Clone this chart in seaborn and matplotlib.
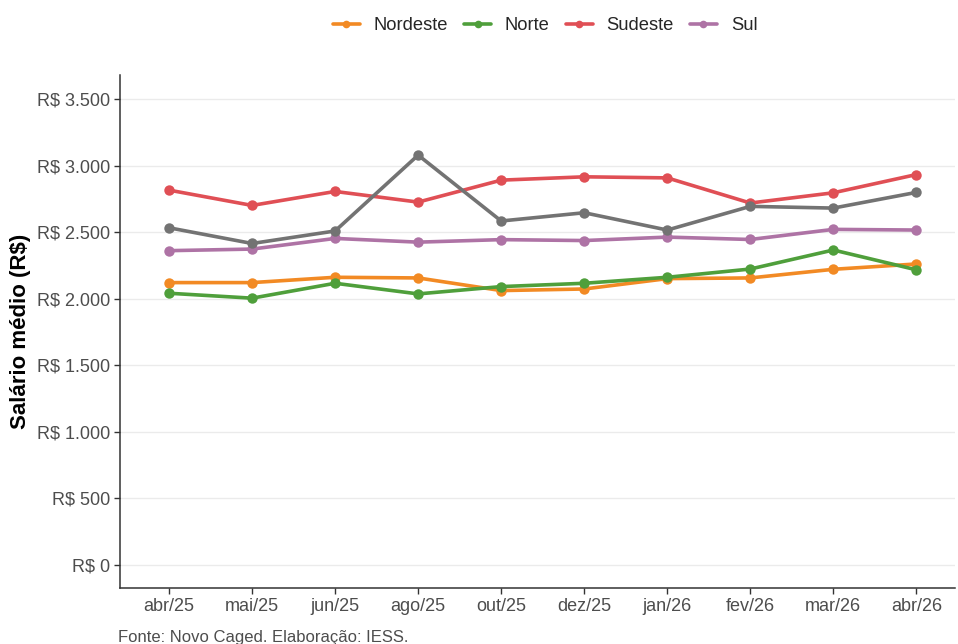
import matplotlib
matplotlib.use("Agg")
import numpy as np
import pandas as pd
import seaborn as sns
from matplotlib import pyplot as plt
from matplotlib.ticker import FuncFormatter

meses = ["abr/25", "mai/25", "jun/25", "ago/25", "out/25", "dez/25",
         "jan/26", "fev/26", "mar/26", "abr/26"]

nordeste = [2120, 2120, 2160, 2155, 2060, 2072, 2150, 2155, 2220, 2260]
norte = [2040, 2003, 2115, 2035, 2090, 2115, 2160, 2222, 2365, 2216]
sudeste = [2815, 2700, 2805, 2725, 2890, 2915, 2907, 2718, 2795, 2932]
sul = [2360, 2372, 2452, 2424, 2443, 2436, 2462, 2444, 2520, 2515]
centro_oeste = [2532, 2414, 2508, 3078, 2583, 2645, 2515, 2693, 2680, 2798]

regioes = ["Nordeste", "Norte", "Sudeste", "Sul", "Centro-Oeste"]
cores = ["#F28A24", "#4F9F3B", "#E04F55", "#AE73A5", "#737373"]

df = pd.DataFrame({
    "mes": meses * 5,
    "x": list(range(len(meses))) * 5,
    "valor": nordeste + norte + sudeste + sul + centro_oeste,
    "regiao": np.repeat(regioes, len(meses)),
})

sns.set_theme(style="white")
plt.rcParams["font.family"] = ["Liberation Sans", "DejaVu Sans"]

fig = plt.figure(figsize=(9.58, 6.44), dpi=100)
ax = fig.add_axes([0.1253, 0.087, 0.872, 0.7965])

sns.lineplot(data=df, x="x", y="valor", hue="regiao", hue_order=regioes,
             palette=cores, marker="o", markersize=7.5, markeredgewidth=0,
             linewidth=2.6, ax=ax, legend=False)

ax.set_xlim(-0.59, 9.47)
ax.set_ylim(-175, 3680)
ax.set_xticks(range(len(meses)))
ax.set_xticklabels(meses)
ax.set_yticks(np.arange(0, 3501, 500))
ax.yaxis.set_major_formatter(FuncFormatter(lambda v, p: "R$ " + f"{int(v):,}".replace(",", ".")))
ax.grid(axis="y", color="#EBEBEB", linewidth=1)
ax.set_axisbelow(True)

for s in ["top", "right"]:
    ax.spines[s].set_visible(False)
for s in ["left", "bottom"]:
    ax.spines[s].set_color("#333333")
    ax.spines[s].set_linewidth(1.1)

ax.tick_params(axis="both", which="major", length=4, width=1, color="#333333",
               labelsize=13, labelcolor="#4D4D4D", bottom=True, left=True, pad=3)
ax.set_xlabel("")
ax.set_ylabel("Salário médio (R$)", fontsize=16, fontweight="bold", color="black")
ax.yaxis.set_label_coords(-0.106, 0.5)

# legend without the gray series
handles = [plt.Line2D([], [], color=c, marker="o", markersize=5.5, markeredgewidth=0, linewidth=2.6)
           for c in cores[:4]]
fig.legend(handles, regioes[:4], loc="center", bbox_to_anchor=(0.569, 0.96), ncol=4,
           frameon=False, fontsize=13.2, handlelength=1.47, handletextpad=0.76, columnspacing=0.87)

fig.text(0.123, -0.002, "Fonte: Novo Caged. Elaboração: IESS.", fontsize=12, color="#4D4D4D", va="bottom")

fig.savefig("out.png", dpi=100)
